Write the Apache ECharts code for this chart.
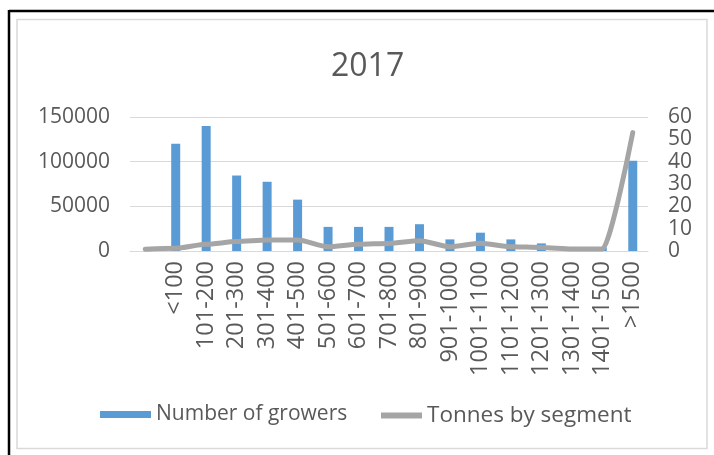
<!DOCTYPE html>
<html>
<head>
<meta charset="utf-8">
<script src="https://cdn.jsdelivr.net/npm/echarts@6/dist/echarts.min.js"></script>
<style>
html,body{margin:0;padding:0;background:#fff;}
#chart{width:714px;height:455px;}
</style>
</head>
<body>
<div id="chart"></div>
<script>
const categories = ["", "<100", "101-200", "201-300", "301-400", "401-500", "501-600", "601-700", "701-800", "801-900", "901-1000", "1001-1100", "1101-1200", "1201-1300", "1301-1400", "1401-1500", ">1500"];
const growers = [0, 120000, 140000, 84500, 77500, 57500, 27000, 27000, 27000, 30000, 13000, 20500, 13000, 8500, 3000, 4000, 101000];
const tonnes = [0.8, 1.2, 3.0, 4.2, 4.9, 4.9, 1.9, 3.0, 3.4, 4.6, 1.9, 3.5, 1.9, 1.6, 0.9, 0.9, 53];
const leftTicks = [0, 50000, 100000, 150000];
const rightTicks = [0, 10, 20, 30, 40, 50, 60];

const font = "'Open Sans', 'Noto Sans', sans-serif";
const textColor = '#595959';
const chart = echarts.init(document.getElementById('chart'), null, {renderer: 'canvas'});
chart.setOption({
  animation: false,
  backgroundColor: '#fff',
  textStyle: {fontFamily: font},
  title: {
    text: '2017', left: 326, top: 46,
    textStyle: {fontFamily: font, fontSize: 32, fontWeight: 'normal', color: textColor}
  },
  legend: [
    {
      top: 404, left: 100, padding: 0, itemWidth: 51, itemHeight: 7, itemGap: 6,
      textStyle: {fontFamily: font, fontSize: 21, color: textColor},
      data: [{name: 'Number of growers', icon: 'rect'}]
    },
    {
      top: 404, left: 381, padding: 0, itemWidth: 41, itemHeight: 6, itemGap: 4,
      textStyle: {fontFamily: font, fontSize: 22.5, color: textColor},
      data: [{name: 'Tonnes by segment', icon: 'path://M0,0 L41,0 L41,6 L0,6 Z'}]
    }
  ],
  grid: {left: 130, right: 66, top: 117, bottom: 204},
  xAxis: {
    type: 'category', data: categories, boundaryGap: true,
    axisLine: {lineStyle: {color: '#D9D9D9', width: 1}},
    axisTick: {show: false},
    axisLabel: {rotate: 90, interval: 0, margin: 10, fontFamily: font, fontSize: 23.5, color: textColor}
  },
  yAxis: [
    {
      type: 'value', min: leftTicks[0], max: leftTicks[leftTicks.length - 1], interval: 50000,
      axisLine: {show: false}, axisTick: {show: false},
      axisLabel: {margin: 20, fontFamily: font, fontSize: 21, color: textColor, formatter: v => String(v)},
      splitLine: {lineStyle: {color: '#D9D9D9', width: 1}}
    },
    {
      type: 'value', min: rightTicks[0], max: rightTicks[rightTicks.length - 1], interval: 10,
      axisLine: {show: false}, axisTick: {show: false},
      axisLabel: {margin: 20, fontFamily: font, fontSize: 21, color: textColor, lineHeight: 20},
      splitLine: {show: false}
    }
  ],
  series: [
    {
      name: 'Number of growers', type: 'bar', data: growers, barWidth: 9,
      itemStyle: {color: '#5B9BD5'}, yAxisIndex: 0
    },
    {
      name: 'Tonnes by segment', type: 'line', data: tonnes, yAxisIndex: 1,
      symbol: 'none', smooth: 0.25, smoothMonotone: 'x',
      lineStyle: {color: '#A5A5A5', width: 5, cap: 'round', join: 'round'},
      itemStyle: {color: '#A5A5A5'}
    }
  ],
  graphic: [
    {type: 'rect', shape: {x: 17, y: 19.5, width: 690, height: 429}, style: {fill: 'none', stroke: '#D9D9D9', lineWidth: 1.5}, z: -1},
    {type: 'line', shape: {x1: 9, y1: 11, x2: 714, y2: 11}, style: {stroke: '#000', lineWidth: 2.5}},
    {type: 'line', shape: {x1: 9, y1: 10, x2: 9, y2: 455}, style: {stroke: '#000', lineWidth: 2.5}}
  ]
});
</script>
</body>
</html>
